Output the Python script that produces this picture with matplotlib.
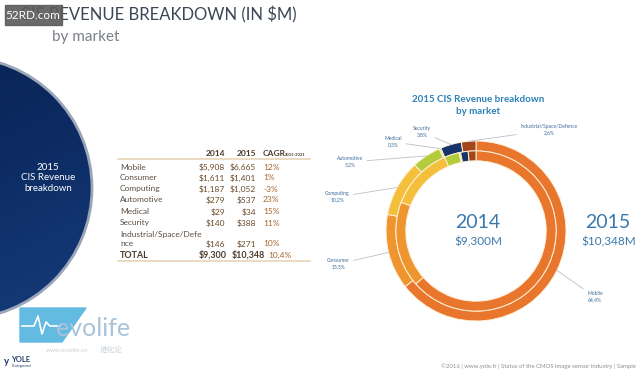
import numpy as np
import matplotlib
matplotlib.use("Agg")
import matplotlib.pyplot as plt
from matplotlib.patches import Circle, Rectangle, Polygon

plt.rcParams["font.family"] = ["Lato", "DejaVu Sans"]

# ---- data -----------------------------------------------------------------
markets = ["Mobile", "Consumer", "Computing", "Automotive", "Medical",
           "Security", "Industrial/Space/Defence"]
table_names = ["Mobile", "Consumer", "Computing", "Automotive", "Medical",
               "Security", "nce"]
rev_2014 = [5908, 1611, 1187, 279, 29, 140, 146]
rev_2015 = [6665, 1401, 1052, 537, 34, 388, 271]
cagr = ["12%", "1%", "-3%", "23%", "15%", "11%", "10%"]
share_2015_labels = ["64,4%", "13,5%", "10,2%", "5,2%", "0,3%", "3,8%", "2,6%"]
total_2014 = "$9,300"
total_2015 = "$10,348"
total_cagr = "10,4%"

market_colors = ["#E8762C", "#EF9530", "#F4C03C", "#B4CB3C", "#D6E27A",
                 "#16346A", "#A3461C"]

# label placement around the donut (figure pixels, y from top)
label_pos = {
    "Mobile": (595, 297),
    "Consumer": (338, 264),
    "Computing": (337, 197),
    "Automotive": (350, 162),
    "Medical": (393, 142),
    "Security": (422, 132),
    "Industrial/Space/Defence": (549, 130),
}

W, H = 640, 373
fig = plt.figure(figsize=(6.4, 3.73), dpi=100)
ax = fig.add_axes([0, 0, 1, 1])
ax.set_xlim(0, W)
ax.set_ylim(H, 0)
ax.axis("off")

# ---- left dark circle -----------------------------------------------------
cx, cy, r = -39, 188, 131
yy, xx = np.mgrid[0:1:200j, 0:1:200j]
grad = 0.7 * yy + 0.3 * xx
cmap = matplotlib.colors.LinearSegmentedColormap.from_list(
    "navy", ["#08214F", "#0D2C64", "#163C7A"])
img = ax.imshow(grad, cmap=cmap, extent=(cx - r, cx + r, cy + r, cy - r),
                origin="upper", aspect="auto", zorder=1)
clip = Circle((cx, cy), r, transform=ax.transData)
img.set_clip_path(clip)
ax.add_patch(Circle((cx, cy), r, fill=False, ec="#9AA6B8", lw=2, zorder=2))
ax.set_xlim(0, W)
ax.set_ylim(H, 0)
ax.text(48, 178, "2015\nCIS Revenue\nbreakdown", color="white", fontsize=7,
        ha="center", va="center", linespacing=1.15, zorder=3)

# ---- title ----------------------------------------------------------------
ax.text(20, 15, "CIS REVENUE BREAKDOWN (IN $M)", fontsize=12,
        color="#3B4756", ha="left", va="center")
ax.text(52, 37, "by market", fontsize=11, color="#7A7F86", ha="left",
        va="center")

# watermark box
ax.add_patch(Rectangle((5, 5), 57, 20, color="#5A5A5A", alpha=0.9, zorder=4))
ax.text(33, 15.5, "52RD.com", color="white", fontsize=8.5, ha="center",
        va="center", zorder=5)

# ---- table ----------------------------------------------------------------
lab_c, val_c, cagr_c, head_c = "#5B4E42", "#6A4A2A", "#A8662C", "#4A3A2A"
fs = 6
x_lab, x_14, x_15, x_cg = 120, 225, 256, 263
ax.text(x_14, 153, "2014", fontsize=fs, weight="bold", color=head_c,
        ha="right", va="center")
ax.text(x_15, 153, "2015", fontsize=fs, weight="bold", color=head_c,
        ha="right", va="center")
ax.text(x_cg, 153, "CAGR", fontsize=fs, weight="bold", color=head_c,
        ha="left", va="center")
ax.text(x_cg + 22, 155, "2015-2021", fontsize=3, weight="bold", color=head_c,
        ha="left", va="center")
ax.plot([118, 310], [159, 159], color="#E6D6B8", lw=1.2)

row_y = [167, 178, 189, 200, 212, 223, 244]
for name, y, v14, v15, cg in zip(table_names, row_y, rev_2014, rev_2015, cagr):
    ax.text(x_lab, y, name, fontsize=fs, color=lab_c, ha="left", va="center")
    ax.text(x_14, y, f"${v14:,}", fontsize=fs, color=val_c, ha="right",
            va="center")
    ax.text(x_15, y, f"${v15:,}", fontsize=fs, color=val_c, ha="right",
            va="center")
    ax.text(x_cg, y, cg, fontsize=fs, color=cagr_c, ha="left", va="center")
ax.text(x_lab, 234, "Industrial/Space/Defe", fontsize=fs, color=lab_c,
        ha="left", va="center")

ax.text(x_lab, 255, "TOTAL", fontsize=fs + 0.4, weight="bold", color=head_c,
        ha="left", va="center")
ax.text(227, 255, total_2014, fontsize=fs + 0.4, weight="bold", color=head_c,
        ha="right", va="center")
ax.text(265, 255, total_2015, fontsize=fs + 0.4, weight="bold", color=head_c,
        ha="right", va="center")
ax.text(268, 255, total_cagr, fontsize=fs, color=cagr_c, ha="left",
        va="center")
ax.plot([118, 310], [260.5, 260.5], color="#E6D6B8", lw=1.2)

# ---- donut ----------------------------------------------------------------
dcx, dcy, dr = 476, 231, 90
axd = fig.add_axes([(dcx - dr) / W, (H - dcy - dr) / H, 2 * dr / W, 2 * dr / H])
ring = dict(width=0.11, edgecolor="#FFF1D8", linewidth=0.7)
wedges, _ = axd.pie(rev_2015, colors=market_colors, radius=1.0,
                    startangle=90, counterclock=False, wedgeprops=ring)
axd.pie(rev_2014, colors=market_colors, radius=0.89, startangle=90,
        counterclock=False, wedgeprops=ring)
axd.set_xlim(-1, 1)
axd.set_ylim(-1, 1)

for w, name, pct in zip(wedges, markets, share_2015_labels):
    mid = np.deg2rad((w.theta1 + w.theta2) / 2)
    px, py = label_pos[name]
    axd.annotate(f"{name}\n{pct}", xy=(np.cos(mid), np.sin(mid)),
                 xytext=(px, H - py), textcoords="figure pixels",
                 fontsize=3.6, color="#3C6C98", ha="center", va="center",
                 linespacing=1.3,
                 arrowprops=dict(arrowstyle="-", color="#B9C1CA", lw=0.6,
                                 shrinkA=1, shrinkB=0))

ax.text(478, 99, "2015 CIS Revenue breakdown", fontsize=7, weight="bold",
        color="#2B80B8", ha="center", va="center")
ax.text(478, 111, "by market", fontsize=7, weight="bold", color="#2B80B8",
        ha="center", va="center")

ax.text(478, 222, "2014", fontsize=14, color="#3A79AD", ha="center",
        va="center")
ax.text(478, 242, "$9,300M", fontsize=8.5, color="#3A79AD", ha="center",
        va="center")
ax.text(608, 222, "2015", fontsize=14, color="#3A79AD", ha="center",
        va="center")
ax.text(609, 242, "$10,348M", fontsize=8.5, color="#3A79AD", ha="center",
        va="center")

# ---- logos / footer ---------------------------------------------------------
ax.add_patch(Polygon([(20, 308), (86, 308), (62, 342), (20, 342)],
                     closed=True, color="#63BBE2", zorder=2))
ax.plot([22, 34, 38, 42, 46, 50, 60], [326, 326, 316, 334, 322, 326, 326],
        color="white", lw=1.2, zorder=3)
ax.text(56, 328, "evolife", fontsize=18, color="#A9C3DA", ha="left",
        va="center", zorder=3)
ax.text(46, 350, "www.evolife.cn", fontsize=4.5, color="#C8D0D8", ha="left",
        va="center")
ax.text(100, 350, "进化论", fontsize=5.5, color="#C8D0D8", ha="left",
        va="center", family=["Noto Sans CJK SC", "DejaVu Sans"])
ax.text(4, 362, "y", fontsize=7, color="#1E3A6A", ha="left", va="center",
        weight="bold")
ax.text(11, 360, "YOLE", fontsize=5.5, color="#1E3A6A", ha="left",
        va="center", weight="bold")
ax.text(12, 366, "Développement", fontsize=2, color="#1E3A6A", ha="left",
        va="center")
ax.text(636, 366,
        "©2016 | www.yole.fr | Status of the CMOS image sensor industry | Sample",
        fontsize=4.3, color="#8E8E8E", ha="right", va="center")

fig.savefig("out.png", dpi=100)
